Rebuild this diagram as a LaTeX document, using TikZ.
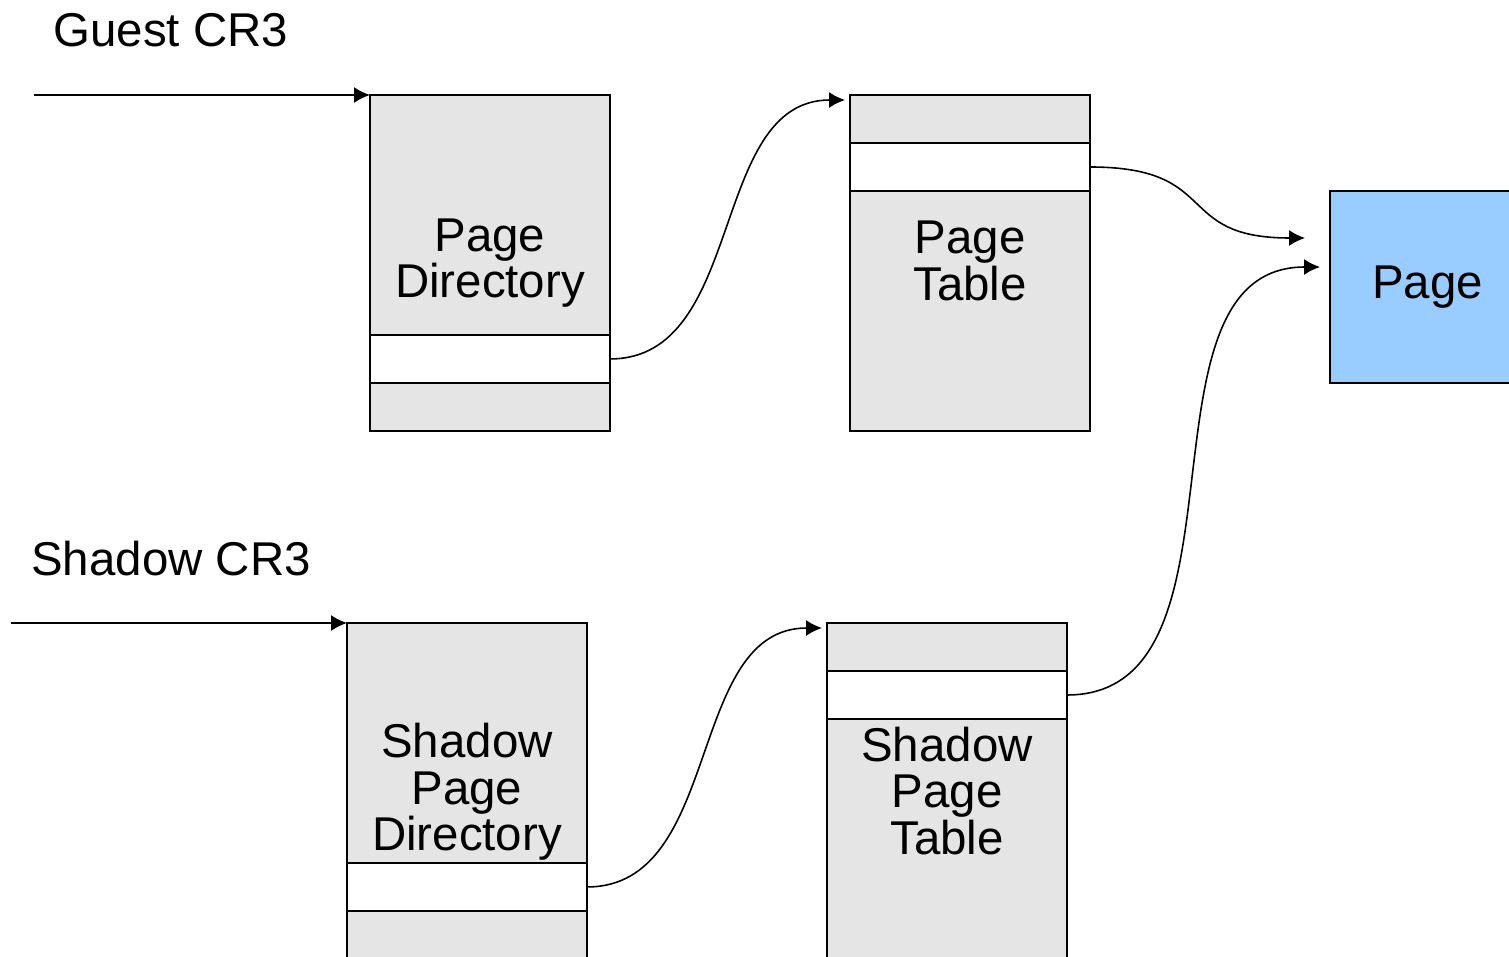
\documentclass[tikz,border=0pt]{standalone}
\usepackage{fontspec}
\setmainfont{Liberation Sans}
\usetikzlibrary{arrows.meta,positioning}
\definecolor{pageblue}{RGB}{153,204,255}
\tikzset{
	cell/.style={draw, fill=black!10, line width=1.1pt, minimum width=4.8cm, inner sep=0pt, outer sep=0pt},
	entry/.style={cell, fill=white, minimum height=0.96cm},
	ptr/.style={line width=0.9pt, -{Latex[length=0.32cm,width=0.32cm]}},
	lbl/.style={align=center, inner sep=0pt, font=\fontsize{27}{26.4}\selectfont},
}

\begin{document}
\begin{tikzpicture}[x=0.02cm, y=-0.02cm]
		%%%%% START %%%%%
		\useasboundingbox (0,0) rectangle (1509,957);
		
		% guest tables
		\node[lbl, anchor=base west] (gcr3) at (53,46) {Guest CR3};
		\node[cell, minimum height=4.8cm, anchor=north west] (pdtop) at (370,95) {};
		\node[entry, below=0pt of pdtop] (pdentry) {};
		\node[cell, minimum height=0.96cm, below=0pt of pdentry] (pdbot) {};
		\node[lbl] (pdtext) at (490,263) {Page\\Directory};
		
		\node[cell, minimum height=0.96cm, anchor=north west] (pttop) at (850,95) {};
		\node[entry, below=0pt of pttop] (ptentry) {};
		\node[cell, minimum height=4.8cm, below=0pt of ptentry] (ptbot) {};
		\node[lbl] (pttext) at (970,261) {Page\\Table};
		
		\node[cell, fill=pageblue, minimum width=3.9cm, minimum height=3.84cm, anchor=north west, lbl] (page) at (1330,191) {Page};
		
		% shadow tables
		\node[lbl, anchor=base west] (scr3) at (31,575) {Shadow CR3};
		\node[cell, minimum height=4.8cm, anchor=north west] (spdtop) at (347,623) {};
		\node[entry, below=0pt of spdtop] (spdentry) {};
		\node[cell, minimum height=0.96cm, below=0pt of spdentry] (spdbot) {};
		\node[lbl] (spdtext) at (467,792) {Shadow\\Page\\Directory};
		
		\node[cell, minimum height=0.96cm, anchor=north west] (spttop) at (827,623) {};
		\node[entry, below=0pt of spttop] (sptentry) {};
		\node[cell, minimum height=4.8cm, below=0pt of sptentry] (sptbot) {};
		\node[lbl] (spttext) at (947,791) {Shadow\\Page\\Table};
		
		% pointers
		\coordinate (gfrom) at (34,95);
		\coordinate (sfrom) at (11,623);
		\coordinate (ptin) at (845,100);
		\coordinate (sptin) at (822,628);
		\coordinate (pagein) at (1305,238);
		\coordinate (spagein) at (1320,267);
		
		\draw[ptr] (gfrom) -- (pdtop.north west);
		\draw[ptr] (sfrom) -- (spdtop.north west);
		\draw[ptr] (pdentry.east) to[out=0, in=180] (ptin);
		\draw[ptr] (spdentry.east) to[out=0, in=180] (sptin);
		\draw[ptr] (ptentry.east) to[out=0, in=180, looseness=1.5] (pagein);
		\draw[ptr] (sptentry.east) to[out=0, in=180] (spagein);
		
		%%%%% END %%%%%
	\end{tikzpicture}
\end{document}
